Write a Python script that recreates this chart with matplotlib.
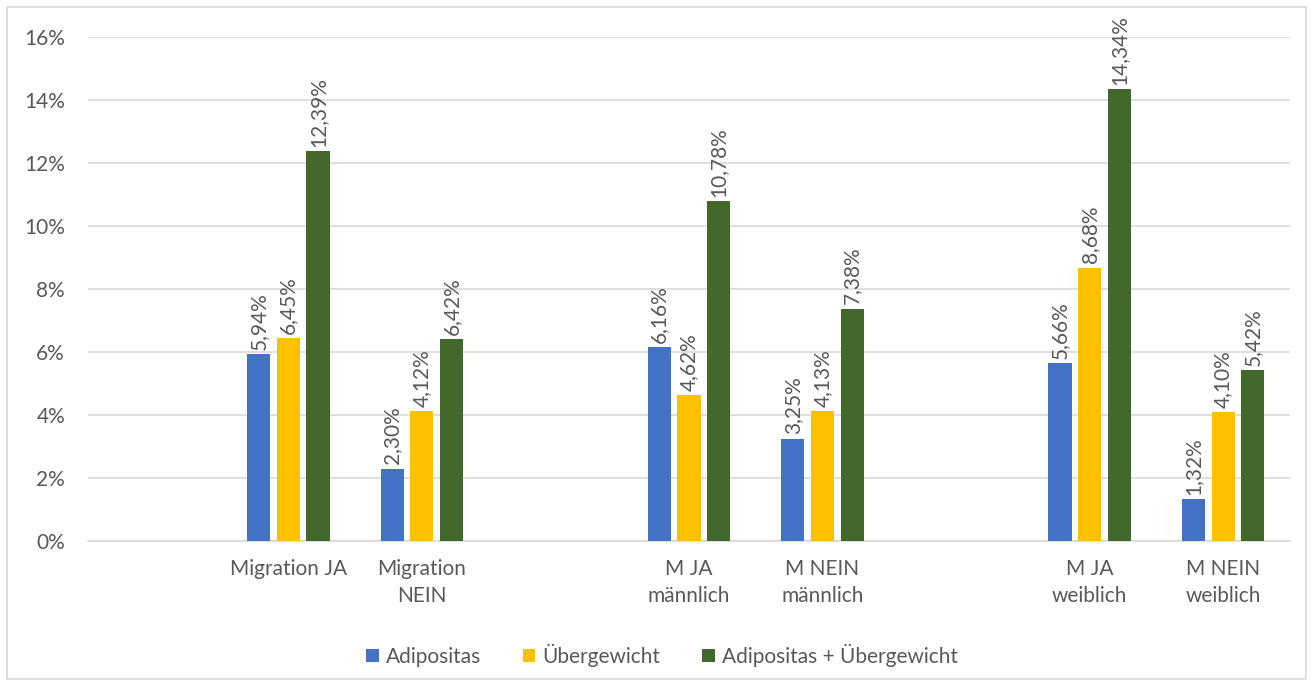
import matplotlib
matplotlib.use("Agg")
import matplotlib.pyplot as plt
import numpy as np
from matplotlib.patches import Rectangle

categories = ["", "Migration JA", "Migration\nNEIN", "", "M JA\nmännlich", "M NEIN\nmännlich",
              "", "M JA\nweiblich", "M NEIN\nweiblich"]
series_names = ["Adipositas", "Übergewicht", "Adipositas + Übergewicht"]
adipositas = [None, 5.94, 2.30, None, 6.16, 3.25, None, 5.66, 1.32]
uebergewicht = [None, 6.45, 4.12, None, 4.62, 4.13, None, 8.68, 4.10]
beide = [None, 12.39, 6.42, None, 10.78, 7.38, None, 14.34, 5.42]
colors = ["#4472C4", "#FFC000", "#43682B"]

plt.rcParams['font.family'] = ['Lato', 'DejaVu Sans']
text_color = "#595959"
fs = 15

fig = plt.figure(figsize=(13.13, 6.86), dpi=100)
ax = fig.add_axes([88/1313, 1-541/686, (1290-88)/1313, 504/686])

x = np.arange(len(categories))
width = 0.173
step = 0.222
for i, (vals, name, c) in enumerate(zip([adipositas, uebergewicht, beide], series_names, colors)):
    xs = [xi + (i-1)*step for xi, v in zip(x, vals) if v is not None]
    vs = [v for v in vals if v is not None]
    ax.bar(xs, vs, width=width, color=c, label=name, zorder=3)
    for xx, v in zip(xs, vs):
        ax.annotate(f"{v:.2f}%".replace(".", ","), (xx, v), xytext=(0, 3),
                    textcoords="offset points", rotation=90, ha="center", va="bottom",
                    fontsize=fs, color=text_color)

ax.set_xlim(-0.5, len(categories)-0.5)
ax.set_ylim(0, 16)
ax.set_yticks(range(0, 17, 2))
ax.set_yticklabels([f"{t}%" for t in range(0, 17, 2)])
ax.set_xticks(x)
ax.set_xticklabels(categories, linespacing=1.45)
ax.tick_params(axis='both', length=0, labelsize=fs, labelcolor=text_color)
ax.tick_params(axis='x', pad=13)
ax.tick_params(axis='y', pad=16.5)
ax.grid(axis='y', color="#D9D9D9", linewidth=1.2, zorder=0)
for s in ["top", "right", "left"]:
    ax.spines[s].set_visible(False)
ax.spines["bottom"].set_color("#D9D9D9")
ax.spines["bottom"].set_linewidth(1.2)

leg = fig.legend(loc="center", bbox_to_anchor=(662/1313, 1-655/686), ncol=3, frameon=False,
                 fontsize=fs, handlelength=0.6, handleheight=0.6, handletextpad=0.35,
                 columnspacing=2.0)
for t in leg.get_texts():
    t.set_color(text_color)

fig.patches.append(Rectangle((7/1313, 7/686), 1299/1313, 672/686, transform=fig.transFigure,
                             fill=False, edgecolor="#D9D9D9", linewidth=1.2))

fig.savefig("out.png", dpi=100)
